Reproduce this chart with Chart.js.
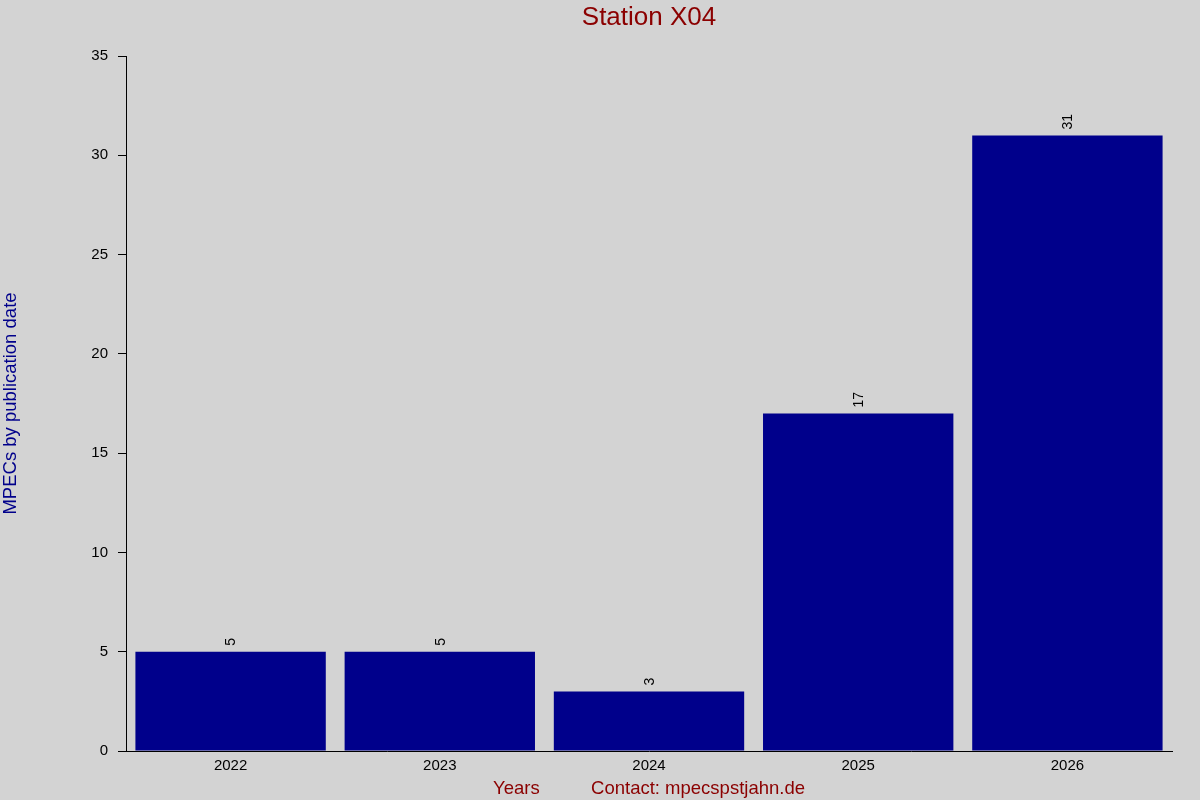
<!DOCTYPE html>
<html>
<head>
<meta charset="utf-8">
<script src="https://cdn.jsdelivr.net/npm/chart.js@4"></script>
<style>
  html, body { margin: 0; padding: 0; background: #d3d3d3; }
  #wrap { width: 1200px; height: 800px; }
</style>
</head>
<body>
<div id="wrap"><canvas id="myChart" width="1200" height="800"></canvas></div>
<script>
var years = ['2022', '2023', '2024', '2025', '2026'];
var mpecCounts = [5, 5, 3, 17, 31];
var yTicks = [0, 5, 10, 15, 20, 25, 30, 35];

var fontFamily = 'Liberation Sans, Arial, sans-serif';

// background, title over the plot area, rotated value labels
var extras = {
    id: 'extras',
    beforeDraw: function (chart) {
        var ctx = chart.ctx;
        ctx.save();
        ctx.fillStyle = '#d3d3d3';
        ctx.fillRect(0, 0, chart.width, chart.height);
        ctx.restore();
    },
    afterDraw: function (chart) {
        var ctx = chart.ctx;
        var area = chart.chartArea;
        ctx.save();
        ctx.fillStyle = '#8b0000';
        ctx.font = '26px ' + fontFamily;
        ctx.textAlign = 'center';
        ctx.textBaseline = 'middle';
        ctx.fillText('Station X04', (area.left + area.right) / 2, 18);

        var meta = chart.getDatasetMeta(0);
        ctx.fillStyle = '#000';
        ctx.font = '14px ' + fontFamily;
        meta.data.forEach(function (bar, i) {
            ctx.save();
            ctx.translate(bar.x + 1, bar.y - 6);
            ctx.rotate(-Math.PI / 2);
            ctx.textAlign = 'left';
            ctx.textBaseline = 'middle';
            ctx.fillText(String(mpecCounts[i]), 0, 0);
            ctx.restore();
        });
        ctx.restore();
    }
};

var ctx = document.getElementById('myChart').getContext('2d');
var myChart = new Chart(ctx, {
    type: 'bar',
    data: {
        labels: years,
        datasets: [{
            data: mpecCounts,
            backgroundColor: '#00008b',
            borderWidth: 0,
            borderSkipped: false,
            inflateAmount: 0,
            categoryPercentage: 0.91,
            barPercentage: 1.0
        }]
    },
    options: {
        responsive: false,
        animation: false,
        layout: { padding: { top: 56, right: 28, bottom: 0, left: 0 } },
        plugins: {
            legend: { display: false },
            tooltip: { enabled: false },
            title: { display: false }
        },
        scales: {
            x: {
                grid: { drawOnChartArea: false, drawTicks: false },
                border: { display: true, color: '#000', width: 1 },
                ticks: { color: '#000', padding: 6, font: { family: fontFamily, size: 15 } },
                title: {
                    display: true,
                    text: 'Years          Contact: mpecspstjahn.de',
                    color: '#8b0000',
                    font: { family: fontFamily, size: 18.5 },
                    padding: { top: 1, bottom: 0 }
                },
                afterFit: function (scale) { scale.height = 49; }
            },
            y: {
                min: 0,
                max: 35,
                afterBuildTicks: function (scale) {
                    scale.ticks = yTicks.map(function (v) { return { value: v }; });
                },
                grid: { drawOnChartArea: false, drawTicks: true, tickLength: 8, color: '#000' },
                border: { display: true, color: '#000', width: 1 },
                ticks: { color: '#000', padding: 10, font: { family: fontFamily, size: 15 } },
                title: {
                    display: true,
                    text: 'MPECs by publication date',
                    color: '#00008b',
                    font: { family: fontFamily, size: 18.5 },
                    padding: { top: 0, bottom: 0 }
                },
                afterFit: function (scale) { scale.width = 126; }
            }
        }
    },
    plugins: [extras]
});
</script>
</body>
</html>
